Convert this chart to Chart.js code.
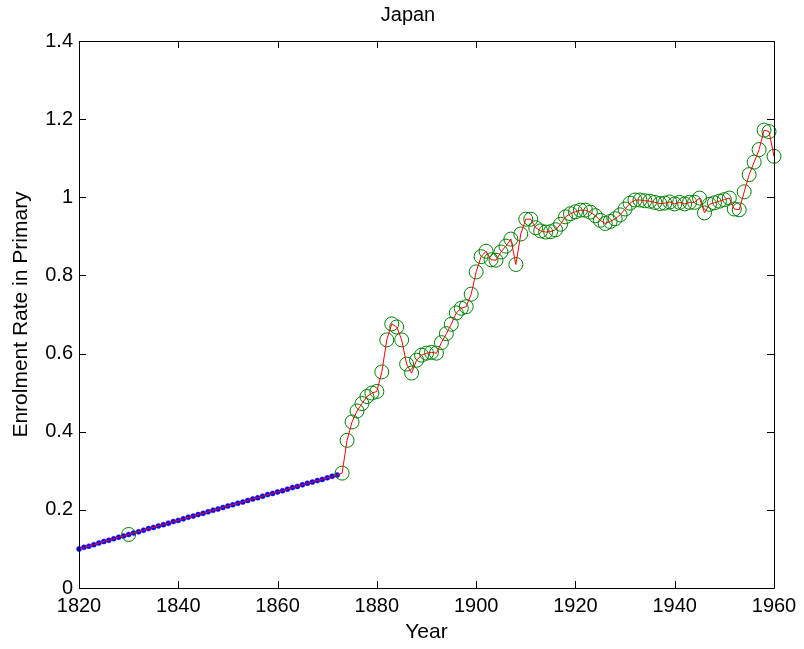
<!DOCTYPE html>
<html>
<head>
<meta charset="utf-8">
<script src="https://cdn.jsdelivr.net/npm/chart.js@4/dist/chart.umd.min.js"></script>
<style>
html,body{margin:0;padding:0;background:#fff;}
#wrap{width:804px;height:649px;}
</style>
</head>
<body>
<div id="wrap"><canvas id="c" width="804" height="649"></canvas></div>
<script>
// ---- data ----
const interpYears = [1820,1821,1822,1823,1824,1825,1826,1827,1828,1829,1830,1831,1832,1833,1834,1835,1836,1837,1838,1839,1840,1841,1842,1843,1844,1845,1846,1847,1848,1849,1850,1851,1852,1853,1854,1855,1856,1857,1858,1859,1860,1861,1862,1863,1864,1865,1866,1867,1868,1869,1870,1871,1872];
const interpValues = [0.100,0.104,0.107,0.111,0.115,0.119,0.122,0.126,0.130,0.133,0.137,0.141,0.144,0.148,0.152,0.155,0.159,0.162,0.166,0.170,0.173,0.177,0.181,0.184,0.188,0.191,0.195,0.199,0.202,0.206,0.210,0.213,0.217,0.220,0.224,0.228,0.231,0.235,0.239,0.242,0.246,0.249,0.253,0.257,0.260,0.264,0.268,0.271,0.275,0.278,0.282,0.286,0.289];
const obsYears = [1830,1873,1874,1875,1876,1877,1878,1879,1880,1881,1882,1883,1884,1885,1886,1887,1888,1889,1890,1891,1892,1893,1894,1895,1896,1897,1898,1899,1900,1901,1902,1903,1904,1905,1906,1907,1908,1909,1910,1911,1912,1913,1914,1915,1916,1917,1918,1919,1920,1921,1922,1923,1924,1925,1926,1927,1928,1929,1930,1931,1932,1933,1934,1935,1936,1937,1938,1939,1940,1941,1942,1943,1944,1945,1946,1947,1948,1949,1950,1951,1952,1953,1954,1955,1956,1957,1958,1959,1960];
const obsValues = [0.137,0.294,0.378,0.425,0.453,0.472,0.490,0.499,0.503,0.553,0.635,0.676,0.668,0.635,0.573,0.550,0.583,0.596,0.601,0.603,0.601,0.628,0.651,0.675,0.704,0.716,0.720,0.752,0.809,0.848,0.862,0.840,0.839,0.860,0.875,0.893,0.828,0.906,0.944,0.944,0.922,0.914,0.911,0.912,0.917,0.931,0.950,0.958,0.963,0.967,0.967,0.962,0.953,0.941,0.933,0.938,0.945,0.955,0.970,0.985,0.993,0.993,0.991,0.990,0.987,0.984,0.985,0.988,0.983,0.987,0.983,0.987,0.987,0.998,0.960,0.982,0.986,0.990,0.994,0.998,0.970,0.968,1.014,1.058,1.090,1.122,1.172,1.168,1.105];
const xTicks = [1820,1840,1860,1880,1900,1920,1940,1960];
const xTickLabels = ['1820','1840','1860','1880','1900','1920','1940','1960'];
const yTicks = [0,0.2,0.4,0.6,0.8,1,1.2,1.4];
const yTickLabels = ['0','0.2','0.4','0.6','0.8','1','1.2','1.4'];
const chartTitle = 'Japan';
const xTitle = 'Year';
const yTitle = 'Enrolment Rate in Primary';

// ---- build point tables ----
const interpPts = interpYears.map((x,i)=>({x:x,y:interpValues[i]}));
const obsPts = obsYears.map((x,i)=>({x:x,y:obsValues[i]}));
const linePts = interpPts.concat(obsPts.filter(p=>p.x>interpYears[interpYears.length-1]));

const FONT = "'Liberation Sans', Arial, Helvetica, sans-serif";
Chart.defaults.font.family = FONT;
Chart.defaults.font.size = 20;
Chart.defaults.color = '#000';

const boxPlugin = {
  id:'box',
  afterDraw(chart){
    const {ctx, chartArea:{left,right,top,bottom}} = chart;
    const xs = chart.scales.x, ys = chart.scales.y;
    ctx.save();
    ctx.strokeStyle = '#000';
    ctx.lineWidth = 1;
    ctx.beginPath();
    ctx.rect(Math.round(left)+0.5, Math.round(top)+0.5, Math.round(right-left), Math.round(bottom-top));
    const L = 7;
    xTicks.forEach(v=>{
      const px = Math.round(xs.getPixelForValue(v))+0.5;
      ctx.moveTo(px,bottom); ctx.lineTo(px,bottom-L);
      ctx.moveTo(px,top); ctx.lineTo(px,top+L);
    });
    yTicks.forEach(v=>{
      const py = Math.round(ys.getPixelForValue(v))+0.5;
      ctx.moveTo(left,py); ctx.lineTo(left+L,py);
      ctx.moveTo(right,py); ctx.lineTo(right-L,py);
    });
    ctx.stroke();
    // chart title
    ctx.fillStyle = '#000';
    ctx.font = "20px " + FONT;
    ctx.textAlign = 'center';
    ctx.textBaseline = 'middle';
    ctx.fillText(chartTitle, 408, 15);
    ctx.restore();
  }
};

new Chart(document.getElementById('c'), {
  type:'scatter',
  data:{
    datasets:[
      {label:'line', data:linePts, showLine:true, borderColor:'#ff0000', borderWidth:1, pointRadius:0, fill:false, clip:false},
      {label:'observed', data:obsPts, showLine:false, pointStyle:'circle', pointRadius:7, pointBorderColor:'#008000', pointBackgroundColor:'rgba(0,0,0,0)', pointBorderWidth:1, clip:false},
      {label:'interpolated', data:interpPts, showLine:false, pointStyle:'circle', pointRadius:2.5, pointBorderColor:'#0000ff', pointBackgroundColor:'#0000ff', pointBorderWidth:0.5, clip:false}
    ]
  },
  options:{
    responsive:false,
    animation:false,
    layout:{padding:{left:0,right:30,top:41,bottom:0}},
    plugins:{
      legend:{display:false},
      tooltip:{enabled:false},
      title:{display:false}
    },
    scales:{
      x:{
        type:'linear', min:1820, max:1960,
        grid:{display:false, drawTicks:false},
        border:{display:false},
        afterBuildTicks(s){ s.ticks = xTicks.map(v=>({value:v})); },
        ticks:{padding:6, maxRotation:0, autoSkip:false, font:{size:20}, callback:(v)=>{const i=xTicks.indexOf(v); return i>=0?xTickLabels[i]:'';}},
        title:{display:true, text:xTitle, font:{size:21}, color:'#000', padding:{top:0,bottom:4}},
        afterFit(s){ s.height = 61; }
      },
      y:{
        type:'linear', min:0, max:1.4,
        grid:{display:false, drawTicks:false},
        border:{display:false},
        afterBuildTicks(s){ s.ticks = yTicks.map(v=>({value:v})); },
        ticks:{padding:6, autoSkip:false, font:{size:20}, callback:(v)=>{const i=yTicks.findIndex(t=>Math.abs(t-v)<1e-9); return i>=0?yTickLabels[i]:'';}},
        title:{display:true, text:yTitle, font:{size:21}, color:'#000', padding:{top:9,bottom:0}},
        afterFit(s){ s.width = 79; }
      }
    }
  },
  plugins:[boxPlugin]
});
</script>
</body>
</html>
